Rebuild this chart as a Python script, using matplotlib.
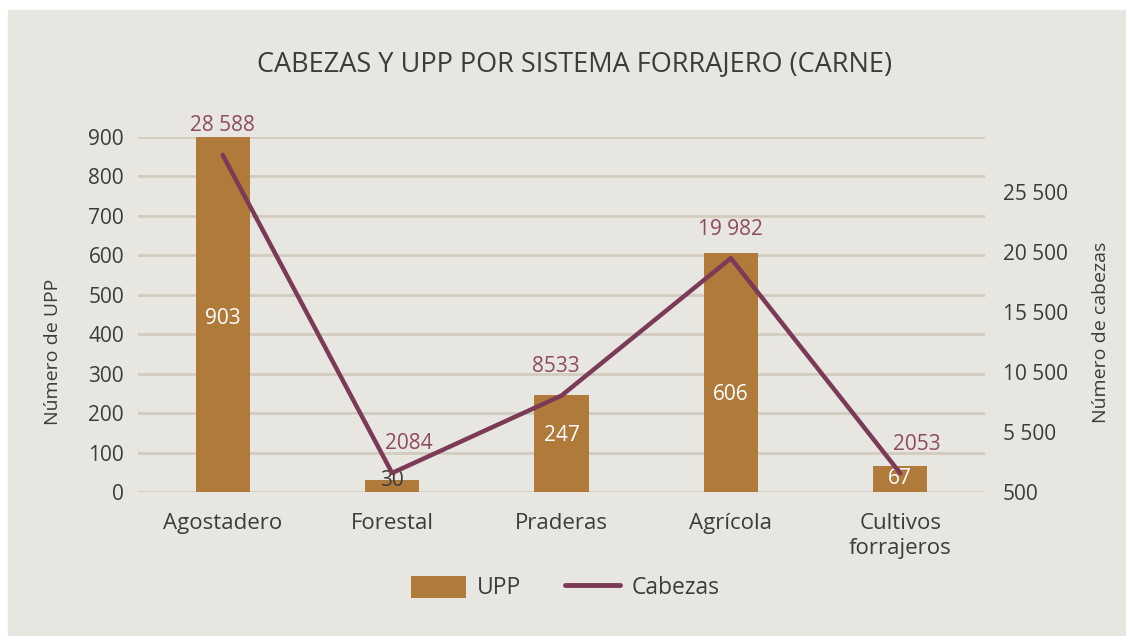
import matplotlib
matplotlib.use("Agg")
import matplotlib.pyplot as plt
from matplotlib.ticker import FuncFormatter, MultipleLocator
from matplotlib.lines import Line2D
from matplotlib.patches import Patch

plt.rcParams["font.family"] = ["Open Sans", "DejaVu Sans"]

# Data
categories = ["Agostadero", "Forestal", "Praderas", "Agrícola", "Cultivos\nforrajeros"]
upp = [903, 30, 247, 606, 67]
cabezas = [28588, 2084, 8533, 19982, 2053]
right_ticks = [500, 5500, 10500, 15500, 20500, 25500]

BG = "#e8e6e1"
BAR = "#b07a3a"
LINE = "#7b3a56"
LINE_TXT = "#8e4a62"
GRID = "#d2ccbf"
TXT = "#3c3c3c"


def thousands(v, _=None):
    s = f"{int(round(v)):,}".replace(",", " ")
    return s


def label_text(v):
    # four-digit values are written without a separator
    return str(v) if v < 10000 else thousands(v)


fig = plt.figure(figsize=(11.26, 6.36), dpi=100)
fig.patch.set_facecolor("white")
# grey panel
fig.patches.append(plt.Rectangle((8 / 1126, 0), 1, (636 - 10) / 636,
                                 transform=fig.transFigure, color=BG, zorder=-10))

ax = fig.add_axes([138 / 1126, (636 - 492) / 636, (985 - 138) / 1126, (492 - 137) / 636])
ax.set_facecolor("none")
x = list(range(len(categories)))

ax.bar(x, upp, width=0.32, color=BAR, zorder=2)
ax.set_xlim(-0.5, len(categories) - 0.5)
ax.set_ylim(0, 900)
ax.yaxis.set_major_locator(MultipleLocator(100))
ax.grid(axis="y", color=GRID, linewidth=2, zorder=0)
ax.set_axisbelow(True)
for s in ax.spines.values():
    s.set_visible(False)
ax.tick_params(axis="both", length=0, labelsize=15, colors=TXT)
ax.tick_params(axis="y", pad=10)
ax.tick_params(axis="x", pad=15)
ax.set_xticks(x)
ax.set_xticklabels(categories, fontsize=16, color=TXT, linespacing=1.25)
ax.set_ylabel("Número de UPP", fontsize=14, color=TXT, labelpad=19)
ax.yaxis.label.set_y(0.394)

# bar value labels
bar_label_y = [440, 30, 144, 246, 35]
for xi, v, ly in zip(x, upp, bar_label_y):
    col = "white" if v > 50 else TXT
    ax.text(xi, ly, str(v), ha="center", va="center", fontsize=15, color=col, zorder=5)

ax2 = ax.twinx()
ax2.set_ylim(500, 500 + 355 / 60 * 5000)
ax2.plot(x, cabezas, color=LINE, linewidth=3.2, zorder=4, solid_capstyle="round")
ax2.set_yticks(right_ticks)
ax2.yaxis.set_major_formatter(FuncFormatter(thousands))
for s in ax2.spines.values():
    s.set_visible(False)
ax2.tick_params(axis="y", length=0, labelsize=15, colors=TXT, pad=13)
ax2.set_ylabel("Número de cabezas", fontsize=14, color=TXT, labelpad=17)
ax2.yaxis.label.set_y(0.45)

# line value labels, nudged sideways where they would sit on the line
label_dx = [0, 12, -4, 0, 12]
for xi, v, dx in zip(x, cabezas, label_dx):
    ax2.annotate(label_text(v), (xi, v), xytext=(dx, 21), textcoords="offset points",
                 ha="center", va="center", fontsize=15, color=LINE_TXT, zorder=6)

fig.text(575 / 1126, (636 - 64) / 636, "CABEZAS Y UPP POR SISTEMA FORRAJERO (CARNE)",
         ha="center", va="center", fontsize=19.5, color=TXT)

handles = [Patch(facecolor=BAR, edgecolor="none"),
           Line2D([0], [0], color=LINE, linewidth=3.5, solid_capstyle="round")]
fig.legend(handles, ["UPP", "Cabezas"], loc="center", bbox_to_anchor=(565 / 1126, (636 - 588) / 636),
           ncol=2, frameon=False, fontsize=16.5, handlelength=2.4, handleheight=1.1,
           columnspacing=1.9, handletextpad=0.5, labelcolor=TXT)

fig.savefig("out.png", dpi=100, facecolor=fig.get_facecolor())
